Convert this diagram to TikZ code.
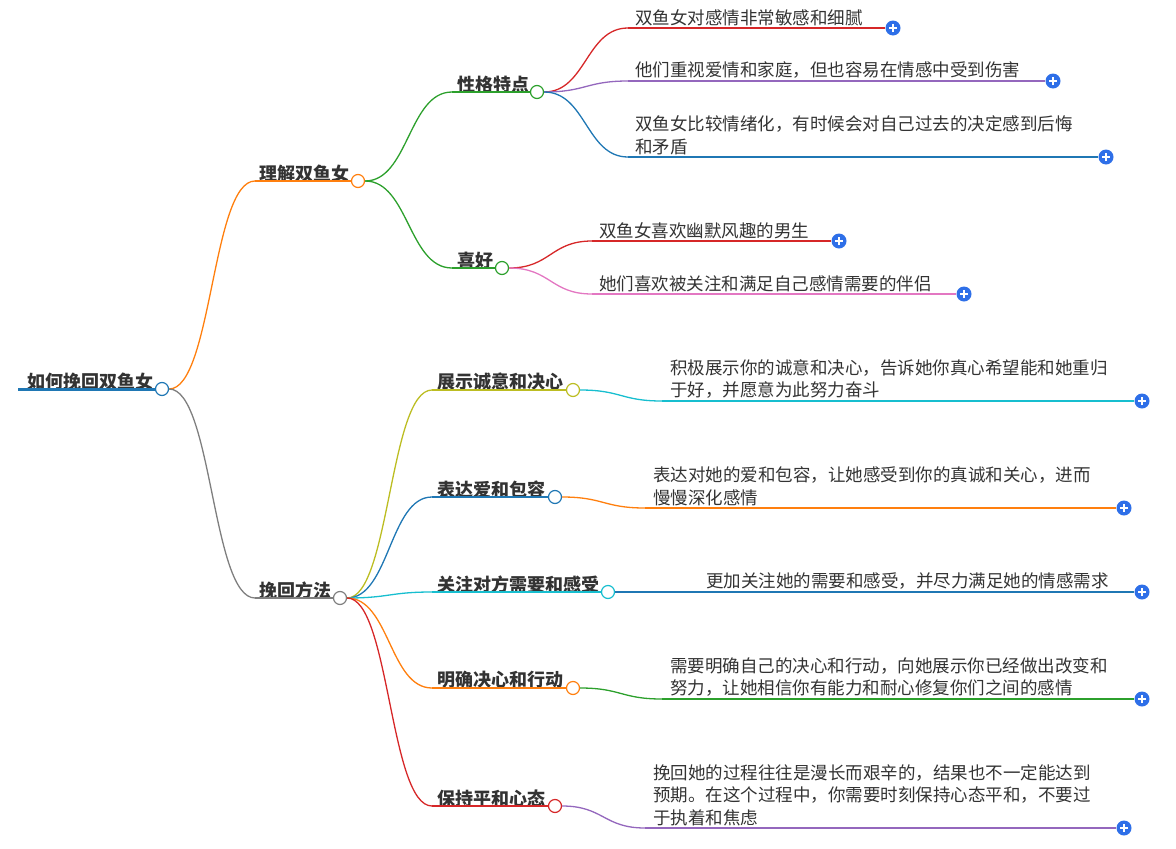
\documentclass[tikz,border=0pt]{standalone}
\usepackage{fontspec}
\setmainfont{Noto Sans CJK SC}
\usetikzlibrary{calc}
\definecolor{cO}{HTML}{FF7F0E}\definecolor{cG}{HTML}{2CA02C}\definecolor{cR}{HTML}{D62728}
\definecolor{cP}{HTML}{9467BD}\definecolor{cB}{HTML}{1F77B4}\definecolor{cK}{HTML}{E377C2}
\definecolor{cY}{HTML}{BCBD22}\definecolor{cC}{HTML}{17BECF}\definecolor{cGr}{HTML}{7F7F7F}
\definecolor{pblue}{HTML}{2E6FE8}\definecolor{tx}{HTML}{333333}
\tikzset{
 mid/.style={font=\bfseries\fontsize{18}{20}\selectfont, text=tx, inner sep=1pt, anchor=south west},
 lf/.style={font=\fontsize{17.5}{22.5}\selectfont, text=tx, inner sep=1pt, anchor=south west, align=left},
 dot/.style={circle, draw, fill=white, minimum size=13pt, inner sep=0pt, line width=1.2pt},
 plus/.style={circle, fill=pblue, minimum size=15pt, inner sep=0pt, path picture={
   \draw[white,line width=1.6pt] ([xshift=-4pt]path picture bounding box.center)--([xshift=4pt]path picture bounding box.center);
   \draw[white,line width=1.6pt] ([yshift=-4pt]path picture bounding box.center)--([yshift=4pt]path picture bounding box.center);}},
 ln/.style={line width=1.3pt}
}
\newcommand\cv[3]{\draw[ln,#1] let \p1=(#2), \p2=(#3) in (\p1) .. controls ({(\x1+\x2)/2},\y1) and ({(\x1+\x2)/2},\y2) .. (\p2);}
\begin{document}
\begin{tikzpicture}[x=1pt,y=-1pt]
\useasboundingbox (0,0) rectangle (1176,849);
% root
\node[mid,anchor=south west] (root) at (26,391) {如何挽回双鱼女};
\node[dot,draw=cB] (rc) at (162,389) {};
\draw[cB,line width=3pt] (18,389) -- (rc.west);
% level 1
\node[mid] (t1) at (258,183) {理解双鱼女};
\node[dot,draw=cO] (c1) at (358,181) {};
\coordinate (s1) at (255,181);
\cv{cO}{rc.east}{s1}\draw[ln,cO] (s1)--(c1.west);
\node[mid] (t2) at (258,600) {挽回方法};
\node[dot,draw=cGr] (c2) at (340,598) {};
\coordinate (s2) at (255,598);
\cv{cGr}{rc.east}{s2}\draw[ln,cGr] (s2)--(c2.west);
% level 2 under 1
\node[mid] (t11) at (456,94) {性格特点};
\node[dot,draw=cG] (c11) at (537,92) {};
\coordinate (s11) at (452,92);
\cv{cG}{c1.east}{s11}\draw[ln,cG] (s11)--(c11.west);
\node[mid] (t12) at (456,270) {喜好};
\node[dot,draw=cG] (c12) at (502,268) {};
\coordinate (s12) at (452,268);
\cv{cG}{c1.east}{s12}\draw[ln,cG] (s12)--(c12.west);
% leaves of 性格特点
\node[lf] (l1) at (634,27) {双鱼女对感情非常敏感和细腻};
\node[plus] (p1) at (893,28) {};
\coordinate (e1) at (628,28); \cv{cR}{c11.east}{e1}\draw[ln,cR] (e1)--(p1.west);
\node[lf] (l2) at (634,80) {他们重视爱情和家庭，但也容易在情感中受到伤害};
\node[plus] (p2) at (1053,81) {};
\coordinate (e2) at (628,81); \cv{cP}{c11.east}{e2}\draw[ln,cP] (e2)--(p2.west);
\node[lf] (l3) at (634,156) {双鱼女比较情绪化，有时候会对自己过去的决定感到后悔\\和矛盾};
\node[plus] (p3) at (1106,157) {};
\coordinate (e3) at (628,157); \cv{cB}{c11.east}{e3}\draw[ln,cB] (e3)--(p3.west);
% leaves of 喜好
\node[lf] (l4) at (598,240) {双鱼女喜欢幽默风趣的男生};
\node[plus] (p4) at (839,241) {};
\coordinate (e4) at (592,241); \cv{cR}{c12.east}{e4}\draw[ln,cR] (e4)--(p4.west);
\node[lf] (l5) at (598,293) {她们喜欢被关注和满足自己感情需要的伴侣};
\node[plus] (p5) at (964,294) {};
\coordinate (e5) at (592,294); \cv{cK}{c12.east}{e5}\draw[ln,cK] (e5)--(p5.west);
% level 2 under 2
\node[mid] (t21) at (436,392) {展示诚意和决心};
\node[dot,draw=cY] (c21) at (573,390) {};
\coordinate (s21) at (432,390); \cv{cY}{c2.east}{s21}\draw[ln,cY] (s21)--(c21.west);
\node[mid] (t22) at (436,499) {表达爱和包容};
\node[dot,draw=cB] (c22) at (555,497) {};
\coordinate (s22) at (432,497); \cv{cB}{c2.east}{s22}\draw[ln,cB] (s22)--(c22.west);
\node[mid] (t23) at (436,594) {关注对方需要和感受};
\node[dot,draw=cC] (c23) at (608,592) {};
\coordinate (s23) at (432,592); \cv{cC}{c2.east}{s23}\draw[ln,cC] (s23)--(c23.west);
\node[mid] (t24) at (436,690) {明确决心和行动};
\node[dot,draw=cO] (c24) at (573,688) {};
\coordinate (s24) at (432,688); \cv{cO}{c2.east}{s24}\draw[ln,cO] (s24)--(c24.west);
\node[mid] (t25) at (436,808) {保持平和心态};
\node[dot,draw=cR] (c25) at (555,806) {};
\coordinate (s25) at (432,806); \cv{cR}{c2.east}{s25}\draw[ln,cR] (s25)--(c25.west);
% leaves
\node[lf] (l6) at (669,400) {积极展示你的诚意和决心，告诉她你真心希望能和她重归\\于好，并愿意为此努力奋斗};
\node[plus] (p6) at (1142,401) {};
\coordinate (e6) at (662,401); \cv{cC}{c21.east}{e6}\draw[ln,cC] (e6)--(p6.west);
\node[lf] (l7) at (652,507) {表达对她的爱和包容，让她感受到你的真诚和关心，进而\\慢慢深化感情};
\node[plus] (p7) at (1124,508) {};
\coordinate (e7) at (645,508); \cv{cO}{c22.east}{e7}\draw[ln,cO] (e7)--(p7.west);
\node[lf] (l8) at (705,591) {更加关注她的需要和感受，并尽力满足她的情感需求};
\node[plus] (p8) at (1142,592) {};
\coordinate (e8) at (698,592); \cv{cB}{c23.east}{e8}\draw[ln,cB] (e8)--(p8.west);
\node[lf] (l9) at (669,698) {需要明确自己的决心和行动，向她展示你已经做出改变和\\努力，让她相信你有能力和耐心修复你们之间的感情};
\node[plus] (p9) at (1142,699) {};
\coordinate (e9) at (662,699); \cv{cG}{c24.east}{e9}\draw[ln,cG] (e9)--(p9.west);
\node[lf] (l10) at (652,827) {挽回她的过程往往是漫长而艰辛的，结果也不一定能达到\\预期。在这个过程中，你需要时刻保持心态平和，不要过\\于执着和焦虑};
\node[plus] (p10) at (1124,828) {};
\coordinate (e10) at (645,828); \cv{cP}{c25.east}{e10}\draw[ln,cP] (e10)--(p10.west);
\end{tikzpicture}
\end{document}
